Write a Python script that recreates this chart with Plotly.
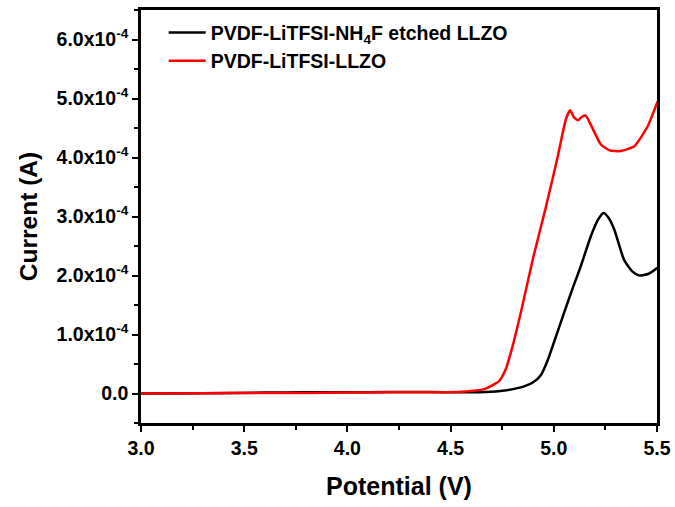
import plotly.graph_objects as go

# Data
etched_v = [3.0, 3.3, 3.6, 3.8, 4.0, 4.2, 4.4, 4.55, 4.694, 4.78, 4.856, 4.90, 4.937, 4.97, 5.0, 5.05, 5.09, 5.131, 5.18, 5.215, 5.241, 5.265, 5.293, 5.34, 5.38, 5.414, 5.46, 5.503]
etched_i = [0.0, 0.005e-4, 0.015e-4, 0.02e-4, 0.02e-4, 0.025e-4, 0.025e-4, 0.02e-4, 0.03e-4, 0.06e-4, 0.12e-4, 0.19e-4, 0.31e-4, 0.56e-4, 0.86e-4, 1.37e-4, 1.77e-4, 2.16e-4, 2.67e-4, 2.95e-4, 3.06e-4, 2.98e-4, 2.78e-4, 2.27e-4, 2.07e-4, 2.0e-4, 2.03e-4, 2.13e-4]

llzo_v = [3.0, 3.3, 3.6, 3.8, 4.0, 4.2, 4.45, 4.55, 4.66, 4.735, 4.767, 4.80, 4.84, 4.90, 4.961, 5.018, 5.058, 5.079, 5.098, 5.118, 5.137, 5.155, 5.18, 5.228, 5.27, 5.325, 5.39, 5.455, 5.503]
llzo_i = [0.0, 0.005e-4, 0.01e-4, 0.01e-4, 0.015e-4, 0.02e-4, 0.02e-4, 0.03e-4, 0.07e-4, 0.21e-4, 0.41e-4, 0.80e-4, 1.37e-4, 2.3e-4, 3.15e-4, 4.0e-4, 4.64e-4, 4.80e-4, 4.68e-4, 4.63e-4, 4.69e-4, 4.71e-4, 4.55e-4, 4.22e-4, 4.12e-4, 4.11e-4, 4.19e-4, 4.53e-4, 4.95e-4]

y_tickvals = [0, 1e-4, 2e-4, 3e-4, 4e-4, 5e-4, 6e-4]
y_ticktext = ["0.0", "1.0x10<sup>-4</sup>", "2.0x10<sup>-4</sup>", "3.0x10<sup>-4</sup>",
              "4.0x10<sup>-4</sup>", "5.0x10<sup>-4</sup>", "6.0x10<sup>-4</sup>"]
x_tickvals = [3.0, 3.5, 4.0, 4.5, 5.0, 5.5]
x_ticktext = ["3.0", "3.5", "4.0", "4.5", "5.0", "5.5"]

font_family = "Liberation Sans, Arial, sans-serif"

fig = go.Figure()
fig.add_trace(go.Scatter(x=etched_v, y=etched_i, mode="lines", line=dict(color="black", width=2.5, shape="spline", smoothing=0.6),
                         name="<b>PVDF-LiTFSI-NH<sub>4</sub>F etched LLZO</b>"))
fig.add_trace(go.Scatter(x=llzo_v, y=llzo_i, mode="lines", line=dict(color="#ff0000", width=2.5, shape="spline", smoothing=0.5),
                         name="<b>PVDF-LiTFSI-LLZO</b>"))

axis_common = dict(showline=True, linecolor="black", linewidth=2.5, mirror=True, automargin=False,
                   showgrid=False, zeroline=False, ticks="outside", tickwidth=2, ticklen=6,
                   tickcolor="black", tickfont=dict(family=font_family, size=19.5, color="black"))

fig.update_layout(
    width=675, height=507,
    margin=dict(l=141, r=18, t=10, b=84),
    plot_bgcolor="white", paper_bgcolor="white",
    font=dict(family=font_family, color="black"),
    showlegend=True,
    legend=dict(x=0.044, y=0.992, xanchor="left", yanchor="top", bgcolor="rgba(0,0,0,0)",
                itemwidth=37,
                font=dict(family=font_family, size=19.5, color="black"), tracegroupgap=0),
    xaxis=dict(range=[3.0, 5.5], tickvals=x_tickvals, ticktext=["<b>%s</b>" % t for t in x_ticktext],
               minor=dict(dtick=0.25, ticks="outside", ticklen=4, tickwidth=2, tickcolor="black"),
               title=dict(text="<b>Potential (V)</b>", font=dict(family=font_family, size=25), standoff=20),
               **axis_common),
    yaxis=dict(range=[-0.5e-4, 6.5e-4], tickvals=y_tickvals, ticktext=["<b>%s</b>" % t for t in y_ticktext],
               minor=dict(dtick=0.5e-4, tick0=0, ticks="outside", ticklen=4, tickwidth=2, tickcolor="black"),
               title=dict(text="<b>Current (A)</b>", font=dict(family=font_family, size=24.5), standoff=12),
               **axis_common),
)

fig.write_html("out.html", config={"displayModeBar": False},
               post_script="document.body.style.margin='0';document.body.style.overflow='hidden';")
